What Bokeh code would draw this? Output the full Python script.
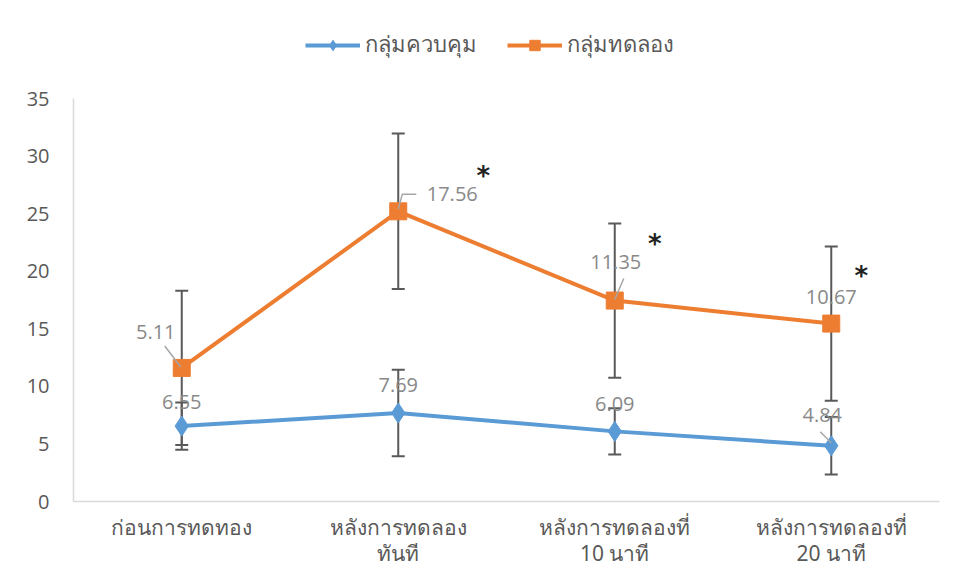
from bokeh.plotting import figure
from bokeh.models import (ColumnDataSource, Whisker, TeeHead, FixedTicker, Range1d,
                          Legend, LegendItem)
from bokeh.core.properties import value
from bokeh.embed import file_html
from bokeh.resources import INLINE

# ---------------- data ----------------
categories = ["ก่อนการทดทอง", "หลังการทดลอง\nทันที",
              "หลังการทดลองที่\n10 นาที", "หลังการทดลองที่\n20 นาที"]
control_name = "กลุ่มควบคุม"
exp_name = "กลุ่มทดลอง"
control_mean = [6.55, 7.69, 6.09, 4.84]
control_err = [2.05, 3.75, 2.0, 2.5]
exp_mean = [11.6, 25.2, 17.45, 15.45]
exp_err = [6.7, 6.75, 6.7, 6.7]
control_labels = [6.55, 7.69, 6.09, 4.84]
exp_labels = [5.11, 17.56, 11.35, 10.67]
significant = [False, True, True, True]
y_ticks = [0, 5, 10, 15, 20, 25, 30, 35]

# ---------------- layout constants ----------------
W, H = 962, 581
L, R, T, B = 73, 23, 8, 80
AXIS_TOP_PX = 98          # pixel row where the top tick (35) sits
BLUE = "#5B9BD5"
ORANGE = "#ED7D31"
GRAY_TXT = "#595959"
LBL = "#898989"

xs = list(range(len(categories)))
x0, x1 = -0.5, len(categories) - 0.5
y0, y_max = 0, 35
px_x = (W - L - R) / (x1 - x0)
px_y = (H - AXIS_TOP_PX - B) / (y_max - y0)
y1 = y_max + (AXIS_TOP_PX - T) / px_y   # extra room above for the legend

p = figure(width=W, height=H, output_backend="svg", toolbar_location=None,
           x_range=Range1d(x0, x1), y_range=Range1d(y0, y1),
           min_border_left=L, min_border_right=R, min_border_top=T, min_border_bottom=B)
p.outline_line_color = None
p.xgrid.visible = False
p.ygrid.visible = False
p.background_fill_color = "white"
p.border_fill_color = "white"

# axes
p.yaxis.ticker = FixedTicker(ticks=y_ticks)
p.yaxis.bounds = (y0, y_max)
p.yaxis.axis_line_color = "#d9d9d9"
p.yaxis.axis_line_width = 1.5
p.yaxis.major_tick_line_color = None
p.yaxis.minor_tick_line_color = None
p.yaxis.major_label_text_color = GRAY_TXT
p.yaxis.major_label_text_font = "Open Sans"
p.yaxis.major_label_text_font_size = "20px"
p.yaxis.major_label_standoff = 18

p.xaxis.ticker = FixedTicker(ticks=xs)
p.xaxis.major_label_overrides = {i: c for i, c in zip(xs, categories)}
p.xaxis.axis_line_color = "#d9d9d9"
p.xaxis.axis_line_width = 1.5
p.xaxis.major_tick_line_color = None
p.xaxis.minor_tick_line_color = None
p.xaxis.major_label_text_color = GRAY_TXT
p.xaxis.major_label_text_font = "Noto Sans"
p.xaxis.major_label_text_font_size = "21px"
p.xaxis.major_label_text_line_height = 0.95
p.xaxis.major_label_standoff = 5

# sources
csrc = ColumnDataSource(dict(x=xs, y=control_mean,
                             upper=[m + e for m, e in zip(control_mean, control_err)],
                             lower=[m - e for m, e in zip(control_mean, control_err)],
                             lbl=[f"{v:.2f}" for v in control_labels]))
esrc = ColumnDataSource(dict(x=xs, y=exp_mean,
                             upper=[m + e for m, e in zip(exp_mean, exp_err)],
                             lower=[m - e for m, e in zip(exp_mean, exp_err)],
                             lbl=[f"{v:.2f}" for v in exp_labels]))

# error bars (under the markers)
for src in (esrc, csrc):
    w = Whisker(base="x", upper="upper", lower="lower", source=src,
                line_color=GRAY_TXT, line_width=2, level="underlay",
                upper_head=TeeHead(size=13, line_color=GRAY_TXT, line_width=2),
                lower_head=TeeHead(size=13, line_color=GRAY_TXT, line_width=2))
    p.add_layout(w)

cl = p.line("x", "y", source=csrc, line_color=BLUE, line_width=4)
cm = p.scatter("x", "y", source=csrc, marker="diamond", size=20,
               fill_color=BLUE, line_color=BLUE)
el = p.line("x", "y", source=esrc, line_color=ORANGE, line_width=4)
em = p.scatter("x", "y", source=esrc, marker="square", size=17,
               fill_color=ORANGE, line_color=ORANGE)

# leader lines (pixel offsets from the point, converted to data units)
leaders = {  # index: list of pixel offsets (dx, dy up-positive)
    "exp": {0: [(-1, 1), (-17, 22)], 1: [(0, 2), (4, 17), (18, 17)], 2: [(0, 1), (9, 22)]},
    "ctl": {3: [(0, 3), (-11, 14)]},
}
for key, means in (("exp", exp_mean), ("ctl", control_mean)):
    for i, pts in leaders[key].items():
        p.line([xs[i] + dx / px_x for dx, dy in pts],
               [means[i] + dy / px_y for dx, dy in pts],
               line_color="#a6a6a6", line_width=1.5)

# data labels
exp_off = [(-26, -36), (54, -17), (1, -39), (0, -27)]
ctl_off = [(0, -24), (0, -28), (0, -27), (-9, -31)]
for src, offs in ((esrc, exp_off), (csrc, ctl_off)):
    for i in xs:
        p.text(x=[xs[i]], y=[src.data["y"][i]], text=[src.data["lbl"][i]],
               x_offset=offs[i][0], y_offset=offs[i][1],
               text_align="center", text_baseline="middle",
               text_font=value("Open Sans"), text_font_size="20px", text_color=LBL)

# significance asterisks
ast_off = [(0, 0), (85, -35), (40, -57), (30, -48)]
for i in xs:
    if significant[i]:
        p.text(x=[xs[i]], y=[exp_mean[i]], text=["*"],
               x_offset=ast_off[i][0], y_offset=ast_off[i][1],
               text_align="center", text_baseline="middle",
               text_font=value("DejaVu Sans"), text_font_size="26px",
               text_font_style="bold", text_color="#222222")

legend = Legend(items=[LegendItem(label=control_name, renderers=[cl, cm]),
                       LegendItem(label=exp_name, renderers=[el, em])],
                orientation="horizontal", location=(305 - L, H - B - 62),
                glyph_width=55, glyph_height=26, label_standoff=5, spacing=30,
                padding=0, margin=0, background_fill_alpha=0, border_line_color=None,
                label_text_color=GRAY_TXT, label_text_font="Noto Sans",
                label_text_font_size="22px")
p.add_layout(legend, "center")

open("out.html", "w").write(file_html(p, INLINE))
